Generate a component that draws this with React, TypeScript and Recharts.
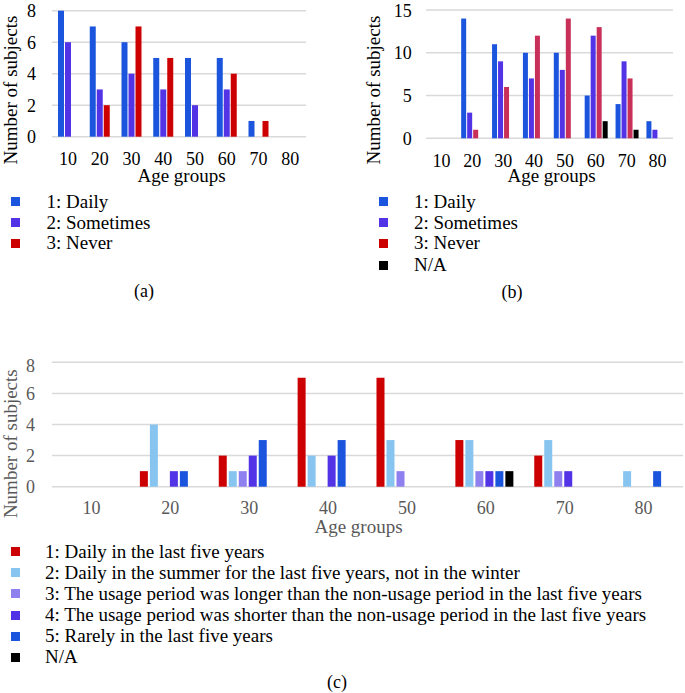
import React from 'react';
import { BarChart, Bar, XAxis, YAxis, CartesianGrid, Label } from 'recharts';

// ---------- data ----------
const ageGroups = ['10', '20', '30', '40', '50', '60', '70', '80'];

// (a)
const aDaily = [8, 7, 6, 5, 5, 5, 1, 0];
const aSometimes = [6, 3, 4, 3, 2, 3, 0, 0];
const aNever = [0, 2, 7, 5, 0, 4, 1, 0];
const aTicks = [0, 2, 4, 6, 8];

// (b)
const bDaily = [0, 14, 11, 10, 10, 5, 4, 2];
const bSometimes = [0, 3, 9, 7, 8, 12, 9, 1];
const bNever = [0, 1, 6, 12, 14, 13, 7, 0];
const bNA = [0, 0, 0, 0, 0, 2, 1, 0];
const bTicks = [0, 5, 10, 15];

// (c)
const c1 = [0, 1, 2, 7, 7, 3, 2, 0];
const c2 = [0, 4, 1, 2, 3, 3, 3, 1];
const c3 = [0, 0, 1, 0, 1, 1, 1, 0];
const c4 = [0, 1, 2, 2, 0, 1, 1, 0];
const c5 = [0, 1, 3, 3, 0, 1, 0, 1];
const cNA = [0, 0, 0, 0, 0, 1, 0, 0];
const cTicks = [0, 2, 4, 6, 8];

const abLabels = ['1: Daily', '2: Sometimes', '3: Never', 'N/A'];
const cLabels = [
  '1: Daily in the last five years',
  '2: Daily in the summer for the last five years, not in the winter',
  '3: The usage period was longer than the non-usage period in the last five years',
  '4: The usage period was shorter than the non-usage period in the last five years',
  '5: Rarely in the last five years',
  'N/A',
];

// ---------- styles ----------
const FONT = '"Liberation Serif", "Times New Roman", Times, serif';
const BLUE = '#1c55dd';
const PURPLE = '#5234e6';
const RED = '#cc0000';
const CRIMSON = '#c8305a';
const LIGHTBLUE = '#88c4f0';
const LAVENDER = '#8f80f0';
const BLACK = '#000000';
const GRID = '#d9d9d9';
const GRAY = '#595959';

const dataA = ageGroups.map((g, i) => ({ g, s1: aDaily[i], s2: aSometimes[i], s3: aNever[i] }));
const dataB = ageGroups.map((g, i) => ({ g, s1: bDaily[i], s2: bSometimes[i], s3: bNever[i], s4: bNA[i] }));
const dataC = ageGroups.map((g, i) => ({
  g, s1: c1[i], s2: c2[i], s3: c3[i], s4: c4[i], s5: c5[i], s6: cNA[i],
}));

const yTitle = (x: number, y: number, color: string) => () => (
  <text
    x={x}
    y={y}
    transform={`rotate(-90 ${x} ${y})`}
    textAnchor="middle"
    fill={color}
    fontSize={19}
    fontFamily={FONT}
  >
    Number of subjects
  </text>
);

const xTitle = (x: number, y: number, color: string) => () => (
  <text x={x} y={y} textAnchor="middle" fill={color} fontSize={19} fontFamily={FONT}>
    Age groups
  </text>
);

type LegendProps = {
  left: number;
  markerLeft: number;
  textLeft: number;
  rows: number[];
  colors: string[];
  labels: string[];
};

const LegendBlock = ({ left, markerLeft, textLeft, rows, colors, labels }: LegendProps) => (
  <>
    {labels.map((lab, i) => (
      <div key={lab} style={{ position: 'absolute', left, top: rows[i] - 11, height: 22 }}>
        <div
          style={{
            position: 'absolute',
            left: markerLeft,
            top: 6.5,
            width: 9,
            height: 9,
            background: colors[i],
          }}
        />
        <div
          style={{
            position: 'absolute',
            left: textLeft,
            top: 0,
            height: 22,
            lineHeight: '22px',
            fontSize: 19,
            fontFamily: FONT,
            color: '#000',
            whiteSpace: 'nowrap',
          }}
        >
          {lab}
        </div>
      </div>
    ))}
  </>
);

const Caption = ({ x, y, text }: { x: number; y: number; text: string }) => (
  <div
    style={{
      position: 'absolute',
      left: x - 30,
      width: 60,
      top: y - 11,
      height: 22,
      lineHeight: '22px',
      textAlign: 'center',
      fontSize: 18,
      fontFamily: FONT,
      color: '#000',
    }}
  >
    {text}
  </div>
);

export default function App() {
  return (
    <div
      style={{
        position: 'absolute',
        left: 0,
        top: 0,
        width: 685,
        height: 693,
        background: '#fff',
        overflow: 'hidden',
      }}
    >
      {/* (a) */}
      <div style={{ position: 'absolute', left: 0, top: 0 }}>
        <BarChart
          width={340}
          height={200}
          data={dataA}
          margin={{ top: 10.7, right: 34, bottom: 0, left: 0 }}
          barCategoryGap={6}
          barGap={1}
        >
          <CartesianGrid vertical={false} stroke={GRID} strokeWidth={1.5} />
          <XAxis
            dataKey="g"
            height={63.3}
            axisLine={false}
            tickLine={false}
            tickSize={0}
            tickMargin={15.5}
            interval={0}
            tick={{ fill: '#000', fontSize: 18, fontFamily: FONT }}
          >
            <Label content={xTitle(181.5, 181.5, '#000')} />
          </XAxis>
          <YAxis
            width={52}
            domain={[0, 8]}
            ticks={aTicks}
            axisLine={false}
            tickLine={false}
            tickSize={0}
            tickMargin={16}
            tick={{ fill: '#000', fontSize: 18, fontFamily: FONT }}
          >
            <Label content={yTitle(17, 90, '#000')} />
          </YAxis>
          <Bar dataKey="s1" fill={BLUE} isAnimationActive={false} />
          <Bar dataKey="s2" fill={PURPLE} isAnimationActive={false} />
          <Bar dataKey="s3" fill={RED} isAnimationActive={false} />
        </BarChart>
      </div>

      {/* (b) */}
      <div style={{ position: 'absolute', left: 340, top: 0 }}>
        <BarChart
          width={345}
          height={200}
          data={dataB}
          margin={{ top: 10, right: 12, bottom: 0, left: 0 }}
          barCategoryGap={4.3}
          barGap={1}
        >
          <CartesianGrid vertical={false} stroke={GRID} strokeWidth={1.5} />
          <XAxis
            dataKey="g"
            height={61.7}
            axisLine={false}
            tickLine={false}
            tickSize={0}
            tickMargin={16}
            interval={0}
            tick={{ fill: '#000', fontSize: 18, fontFamily: FONT }}
          >
            <Label content={xTitle(211.5, 181.5, '#000')} />
          </XAxis>
          <YAxis
            width={86}
            domain={[0, 15]}
            ticks={bTicks}
            axisLine={false}
            tickLine={false}
            tickSize={0}
            tickMargin={14.3}
            tick={{ fill: '#000', fontSize: 18, fontFamily: FONT }}
          >
            <Label content={yTitle(40, 90, '#000')} />
          </YAxis>
          <Bar dataKey="s1" fill={BLUE} isAnimationActive={false} />
          <Bar dataKey="s2" fill={PURPLE} isAnimationActive={false} />
          <Bar dataKey="s3" fill={CRIMSON} isAnimationActive={false} />
          <Bar dataKey="s4" fill={BLACK} isAnimationActive={false} />
        </BarChart>
      </div>

      {/* (c) */}
      <div style={{ position: 'absolute', left: 0, top: 355 }}>
        <BarChart
          width={685}
          height={190}
          data={dataC}
          margin={{ top: 7.3, right: 2, bottom: 0, left: 0 }}
          barCategoryGap={9}
          barGap={2}
        >
          <CartesianGrid vertical={false} stroke={GRID} strokeWidth={1.5} />
          <XAxis
            dataKey="g"
            height={58.3}
            axisLine={false}
            tickLine={false}
            tickSize={0}
            tickMargin={15}
            interval={0}
            tick={{ fill: GRAY, fontSize: 18, fontFamily: FONT }}
          >
            <Label content={xTitle(358.5, 177.5, GRAY)} />
          </XAxis>
          <YAxis
            width={52}
            domain={[0, 8]}
            ticks={cTicks}
            axisLine={false}
            tickLine={false}
            tickSize={0}
            tickMargin={17}
            tick={{ fill: GRAY, fontSize: 18, fontFamily: FONT }}
          >
            <Label content={yTitle(17, 88.7, GRAY)} />
          </YAxis>
          <Bar dataKey="s1" fill={RED} isAnimationActive={false} />
          <Bar dataKey="s2" fill={LIGHTBLUE} isAnimationActive={false} />
          <Bar dataKey="s3" fill={LAVENDER} isAnimationActive={false} />
          <Bar dataKey="s4" fill={PURPLE} isAnimationActive={false} />
          <Bar dataKey="s5" fill={BLUE} isAnimationActive={false} />
          <Bar dataKey="s6" fill={BLACK} isAnimationActive={false} />
        </BarChart>
      </div>

      {/* legends */}
      <LegendBlock
        left={0}
        markerLeft={10.5}
        textLeft={46.5}
        rows={[201.7, 222.5, 243.3]}
        colors={[BLUE, PURPLE, RED]}
        labels={abLabels.slice(0, 3)}
      />
      <LegendBlock
        left={340}
        markerLeft={38.5}
        textLeft={74}
        rows={[201.7, 222.5, 243.3, 265]}
        colors={[BLUE, PURPLE, RED, BLACK]}
        labels={abLabels}
      />
      <LegendBlock
        left={0}
        markerLeft={10.5}
        textLeft={45}
        rows={[551.7, 572.7, 593.7, 615, 636, 657.3]}
        colors={[RED, LIGHTBLUE, LAVENDER, PURPLE, BLUE, BLACK]}
        labels={cLabels}
      />

      <Caption x={144} y={290.5} text="(a)" />
      <Caption x={512} y={291.5} text="(b)" />
      <Caption x={337} y={682} text="(c)" />
    </div>
  );
}
